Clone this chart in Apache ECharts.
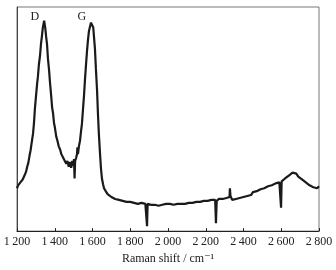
<!DOCTYPE html>
<html>
<head>
<meta charset="utf-8">
<script src="https://cdn.jsdelivr.net/npm/echarts@6/dist/echarts.min.js"></script>
<style>
  html, body { margin: 0; padding: 0; background: #fff; }
  #chart { width: 336px; height: 270px; }
</style>
</head>
<body>
<div id="chart"></div>
<script>
// Raman spectrum, values (arbitrary intensity units)
// D and G bands, then the noisy baseline with a few detector spikes
var ramanShift = [
    1200, 1206, 1212, 1218, 1224, 1230, 1236, 1242, 1248, 1254, 1260, 1266, 1272, 1278, 1285,
    1290, 1295, 1300, 1306, 1311, 1316, 1322, 1327, 1332, 1337, 1341, 1344, 1347, 1350, 1354,
    1359, 1364, 1370, 1375, 1381, 1386, 1391, 1396, 1401, 1408, 1414, 1421, 1428, 1435, 1441,
    1448, 1454, 1461, 1467, 1474, 1481, 1487, 1493, 1498, 1502, 1505, 1508, 1513, 1518, 1520,
    1523, 1528, 1534, 1539, 1544, 1550, 1555, 1560, 1565, 1571, 1576, 1581, 1587, 1592, 1596,
    1600, 1604, 1608, 1613, 1618, 1624, 1629, 1634, 1640, 1645, 1650, 1656, 1661, 1665,
    1670, 1680, 1690, 1700, 1710, 1720, 1730, 1740, 1750, 1760, 1770, 1780, 1790, 1800, 1810,
    1820, 1830, 1840, 1850, 1860, 1870, 1880, 1886, 1889, 1892, 1900, 1910, 1920, 1930, 1940,
    1950, 1960, 1970, 1980, 1990, 2000, 2010, 2020, 2030, 2040, 2050, 2060, 2070, 2080, 2090,
    2100, 2110, 2120, 2130, 2140, 2150, 2160, 2170, 2180, 2190, 2200, 2210, 2220, 2230, 2240,
    2250, 2254, 2258, 2270, 2280, 2290, 2300, 2310, 2320, 2326, 2328, 2331, 2340, 2350, 2360,
    2370, 2380, 2390, 2400, 2410, 2420, 2430, 2440, 2450, 2460, 2470, 2480, 2490, 2500, 2510,
    2520, 2530, 2540, 2550, 2560, 2570, 2580, 2590, 2596, 2599, 2602, 2610, 2620, 2630, 2640,
    2650, 2660, 2670, 2680, 2690, 2700, 2710, 2720, 2730, 2740, 2750, 2760, 2770, 2780, 2790,
    2800
];
var intensity = [
    44, 47, 45, 50, 48, 53, 55, 58, 61, 66, 70, 77, 83, 91, 100,
    111, 126, 137, 150, 159, 171, 180, 192, 200, 209, 213, 216, 212, 208, 200,
    192, 177, 165, 152, 139, 127, 121, 111, 106, 97, 93, 87, 84, 79, 78,
    74, 73, 69, 72, 66, 71, 65, 72, 67, 74, 54, 72, 75, 79, 86,
    79, 87, 93, 102, 110, 126, 139, 155, 169, 185, 196, 205, 210, 214, 216,
    213, 209, 199, 187, 167, 145, 120, 99, 79, 64, 54, 48, 44, 42,
    41, 38, 37, 35, 36, 33, 35, 32, 34, 31, 33, 30, 32, 30, 31,
    29, 31, 28, 30, 29, 30, 28, 29, 5, 28, 29, 27, 29, 27, 28,
    26, 28, 27, 26, 28, 26, 28, 26, 27, 26, 28, 27, 28, 26, 28,
    27, 29, 27, 29, 28, 30, 28, 30, 29, 31, 29, 31, 30, 32, 30,
    32, 8, 31, 33, 31, 33, 32, 34, 33, 35, 44, 36, 32, 34, 33,
    35, 34, 36, 35, 37, 36, 38, 37, 40, 38, 41, 40, 43, 41, 44,
    43, 46, 44, 47, 46, 49, 47, 50, 49, 24, 51, 50, 54, 53, 57,
    56, 60, 58, 59, 56, 57, 53, 54, 50, 51, 47, 49, 45, 47, 44,
    46
];
var xTicks = [1200, 1400, 1600, 1800, 2000, 2200, 2400, 2600, 2800];
var peakNames = ['D', 'G'];
var peakPos = [[1295, 220], [1544, 220]];

var spectrum = [];
for (var i = 0; i < ramanShift.length; i++) {
    spectrum.push([ramanShift[i], intensity[i]]);
}

var labels = [];
for (var j = 0; j < peakNames.length; j++) {
    labels.push({ name: peakNames[j], coord: peakPos[j] });
}

var serif = '"Liberation Serif", "DejaVu Serif", serif';

var myChart = echarts.init(document.getElementById('chart'));
var option = {
    animation: false,
    grid: {
        left: 17, right: 17, top: 7, bottom: 33,
        show: true, borderColor: '#777', borderWidth: 1
    },
    xAxis: {
        type: 'value',
        min: xTicks[0], max: xTicks[xTicks.length - 1], interval: 200,
        name: 'Raman shift / cm\u207B\u00B9',
        nameLocation: 'middle',
        nameGap: 20,
        nameTextStyle: { fontFamily: serif, fontSize: 12, color: '#222' },
        axisLine: { lineStyle: { color: '#222', width: 1 } },
        axisTick: { inside: true, length: 3, lineStyle: { color: '#222' } },
        axisLabel: {
            fontFamily: serif, fontSize: 12, color: '#222', margin: 5,
            formatter: function (v) {
                var s = String(v);
                return s.length > 3 ? s.slice(0, s.length - 3) + '\u2009' + s.slice(-3) : s;
            }
        },
        splitLine: { show: false }
    },
    yAxis: {
        type: 'value',
        min: 0, max: 230,
        axisLine: { show: true, lineStyle: { color: '#444' } },
        axisTick: { show: false },
        axisLabel: { show: false },
        splitLine: { show: false }
    },
    series: [{
        type: 'line',
        data: spectrum,
        symbol: 'none',
        lineStyle: { color: '#1a1a1a', width: 2.2 },
        markPoint: {
            symbol: 'circle',
            symbolSize: 0,
            label: {
                show: true, formatter: '{b}', position: 'inside',
                fontFamily: serif, fontSize: 12, color: '#222'
            },
            data: labels
        }
    }]
};
myChart.setOption(option);
</script>
</body>
</html>
